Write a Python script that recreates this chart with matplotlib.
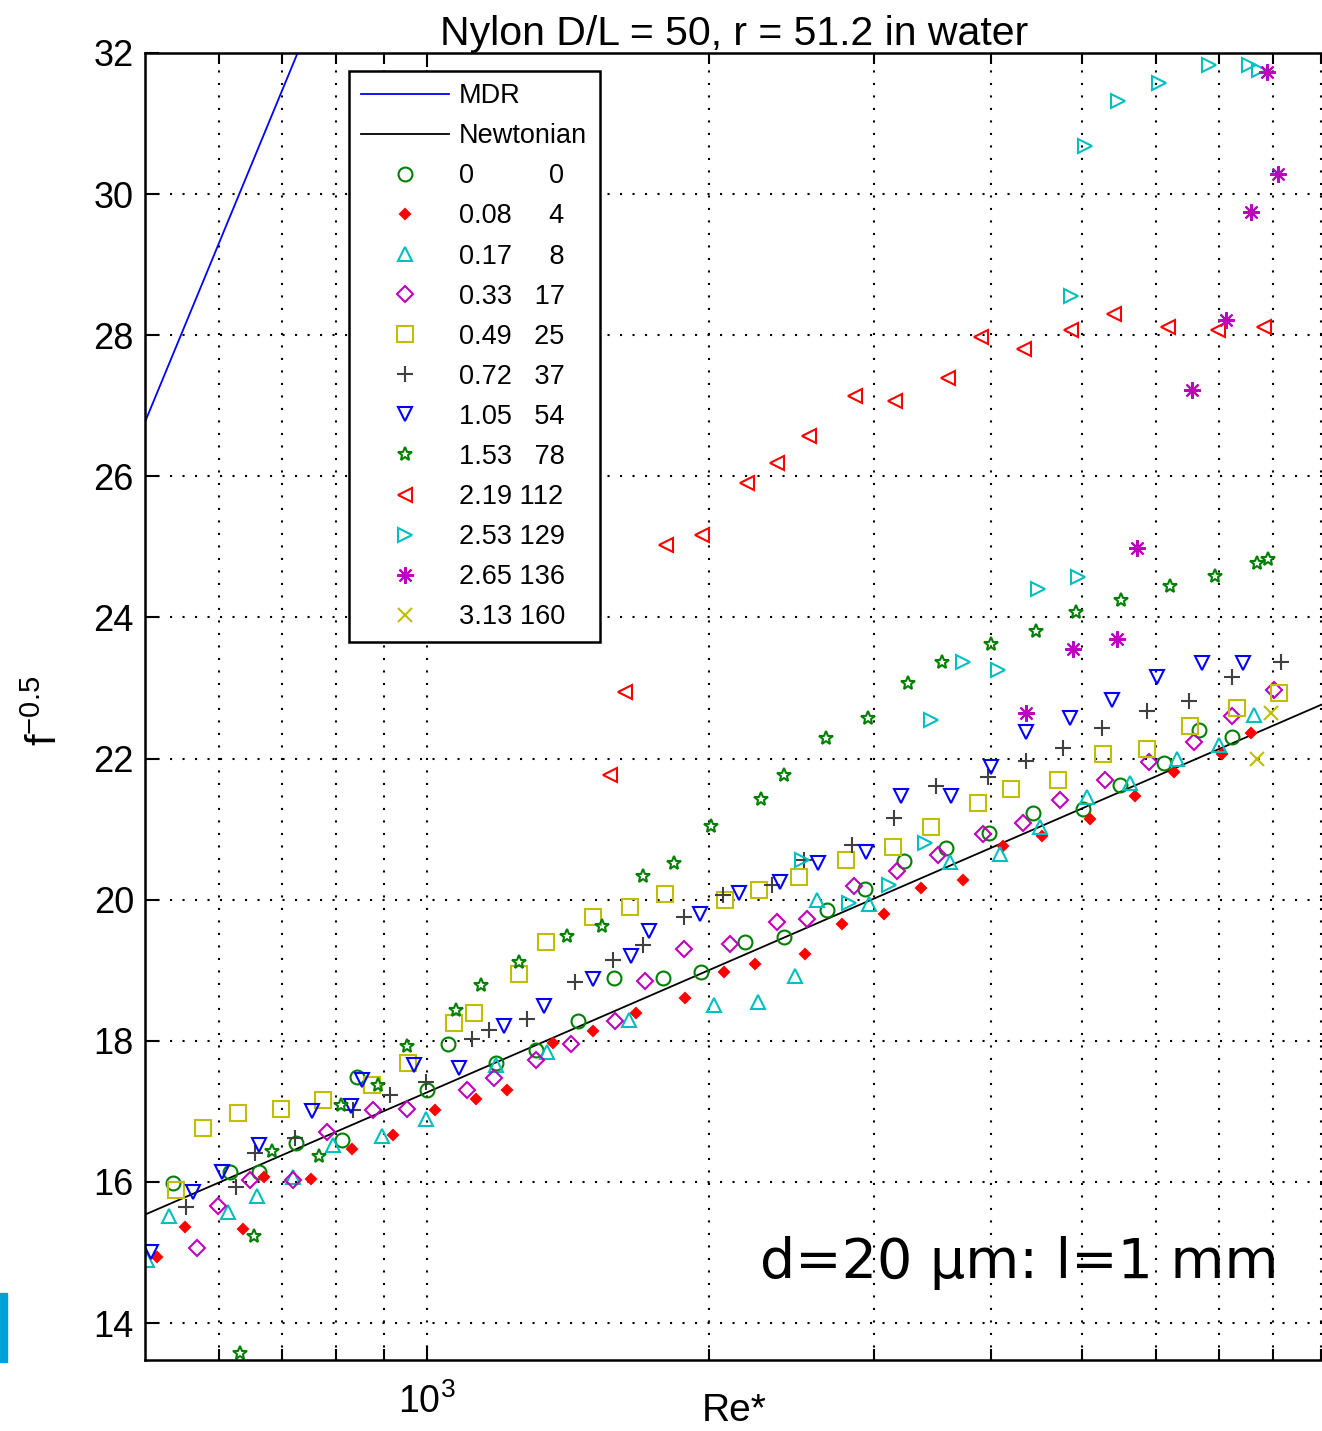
import numpy as np
import matplotlib
matplotlib.use("Agg")
import matplotlib.pyplot as plt
from matplotlib.ticker import FixedLocator, NullFormatter, FixedFormatter
from matplotlib.patches import Rectangle

plt.rcParams['font.family'] = ['Liberation Sans', 'DejaVu Sans']
plt.rcParams['mathtext.fontset'] = 'custom'
plt.rcParams['mathtext.rm'] = 'Liberation Sans'
plt.rcParams['mathtext.it'] = 'Liberation Sans'
plt.rcParams['mathtext.default'] = 'regular'

# legend columns: polymer concentration and ppm
conc = ['0', '0.08', '0.17', '0.33', '0.49', '0.72', '1.05', '1.53', '2.19', '2.53', '2.65', '3.13']
ppm = ['0', '4', '8', '17', '25', '37', '54', '78', '112', '129', '136', '160']

# Re* and f^-0.5 for each run
re_0 = [536, 616, 661, 724, 811, 842, 999, 1053, 1186, 1306, 1449, 1585, 1784, 1960, 2184, 2404,
        2673, 2930, 3225, 3581, 3978, 4436, 5012, 5483, 6112, 6671, 7224]
f_0 = [15.98, 16.14, 16.14, 16.55, 16.59, 17.49, 17.30, 17.96, 17.69, 17.87, 18.28, 18.89, 18.89,
       18.98, 19.40, 19.47, 19.85, 20.15, 20.55, 20.73, 20.94, 21.23, 21.28, 21.62, 21.94, 22.40, 22.30]

re_008 = [515, 552, 636, 670, 751, 832, 919, 1020, 1129, 1216, 1362, 1503, 1672, 1886, 2075, 2239,
          2531, 2769, 3071, 3365, 3736, 4119, 4533, 5095, 5689, 6276, 7050, 7582]
f_008 = [14.94, 15.36, 15.33, 16.07, 16.04, 16.46, 16.66, 17.02, 17.18, 17.30, 17.97, 18.14, 18.39,
         18.60, 18.98, 19.09, 19.23, 19.65, 19.80, 20.17, 20.28, 20.76, 20.90, 21.15, 21.47, 21.81,
         22.07, 22.36]

re_017 = [503, 530, 613, 658, 719, 793, 895, 998, 1186, 1343, 1641, 2025, 2257, 2470, 2605, 2961,
          3617, 4086, 4507, 5065, 5632, 6315, 7005, 7633]
f_017 = [14.89, 15.52, 15.58, 15.80, 16.07, 16.52, 16.65, 16.89, 17.66, 17.84, 18.29, 18.51, 18.55,
         18.92, 20.00, 19.94, 20.54, 20.65, 21.03, 21.45, 21.65, 21.99, 22.19, 22.62]

re_033 = [568, 598, 647, 719, 782, 875, 952, 1102, 1179, 1306, 1425, 1588, 1710, 1882, 2106, 2364,
          2545, 2853, 3172, 3514, 3917, 4328, 4733, 5293, 5902, 6592, 7237, 8015]
f_033 = [15.06, 15.66, 16.03, 16.03, 16.71, 17.02, 17.04, 17.30, 17.47, 17.73, 17.96, 18.28, 18.85,
         19.30, 19.37, 19.69, 19.72, 20.19, 20.40, 20.63, 20.93, 21.09, 21.41, 21.69, 21.95, 22.24,
         22.60, 22.97]

re_049 = [540, 577, 628, 698, 774, 873, 955, 1068, 1122, 1253, 1341, 1503, 1647, 1796, 2080, 2261,
          2494, 2803, 3141, 3449, 3876, 4202, 4713, 5263, 5867, 6512, 7313, 8115]
f_049 = [15.88, 16.77, 16.98, 17.03, 17.16, 17.37, 17.69, 18.25, 18.39, 18.95, 19.40, 19.76, 19.90,
         20.08, 20.00, 20.14, 20.32, 20.56, 20.74, 21.03, 21.37, 21.57, 21.69, 22.07, 22.14, 22.46,
         22.71, 22.93]

re_072 = [553, 626, 656, 723, 834, 914, 998, 1116, 1165, 1277, 1440, 1578, 1699, 1882, 2067, 2336,
          2524, 2841, 3147, 3491, 3965, 4352, 4771, 5254, 5867, 6500, 7224, 8147]
f_072 = [15.65, 15.93, 16.41, 16.62, 17.02, 17.23, 17.42, 18.03, 18.16, 18.31, 18.84, 19.14, 19.36,
         19.76, 20.07, 20.21, 20.56, 20.78, 21.16, 21.61, 21.74, 21.97, 22.15, 22.43, 22.68, 22.82,
         23.16, 23.37]

re_105 = [507, 563, 604, 661, 754, 830, 852, 969, 1082, 1207, 1333, 1503, 1651, 1727, 1957, 2153,
          2381, 2612, 2944, 3207, 3622, 4003, 4352, 4851, 5381, 6012, 6714, 7435]
f_105 = [15.01, 15.86, 16.14, 16.52, 17.00, 17.07, 17.44, 17.66, 17.61, 18.21, 18.49, 18.87, 19.20,
         19.55, 19.80, 20.10, 20.25, 20.52, 20.67, 21.47, 21.47, 21.88, 22.38, 22.57, 22.83, 23.15,
         23.35, 23.35]

re_153 = [632, 654, 683, 767, 809, 886, 952, 1074, 1141, 1254, 1410, 1538, 1699, 1836, 2010, 2271,
          2404, 2663, 2955, 3260, 3548, 4003, 4471, 4931, 5505, 6214, 6934, 7694, 7907]
f_153 = [13.58, 15.24, 16.44, 16.37, 17.09, 17.37, 17.92, 18.44, 18.79, 19.11, 19.48, 19.63, 20.34,
         20.52, 21.04, 21.42, 21.77, 22.29, 22.57, 23.07, 23.37, 23.63, 23.81, 24.08, 24.25, 24.44,
         24.59, 24.77, 24.83]

re_219 = [1566, 1628, 1801, 1964, 2197, 2361, 2555, 2865, 3160, 3593, 3899, 4338, 4870, 5408, 6173,
          6976, 7823]
f_219 = [21.77, 22.95, 25.03, 25.17, 25.91, 26.19, 26.57, 27.14, 27.07, 27.39, 27.98, 27.80, 28.08,
         28.30, 28.12, 28.07, 28.12]

re_253 = [2514, 2818, 3109, 3401, 3451, 3736, 4069, 4488, 4951, 4863, 5033, 5460, 6047, 6836, 7538, 7727]
f_253 = [20.56, 19.96, 20.21, 20.81, 22.54, 23.37, 23.25, 24.40, 24.58, 28.55, 30.68, 31.32, 31.57,
         31.83, 31.83, 31.76]

re_265 = [4352, 4891, 5451, 5725, 6546, 7120, 7568, 8095, 7874]
f_265 = [22.64, 23.55, 23.70, 24.99, 27.23, 28.22, 29.74, 30.29, 31.73]

re_313 = [7963, 7680]
f_313 = [22.64, 22.00]

# MDR asymptote end points, Newtonian law f^-0.5 = 2.5 ln(Re*)
mdr_re = [500, 760]
mdr_f = [26.77, 32.61]
newt_re = np.array([500, 9050])

series = [(re_0, f_0), (re_008, f_008), (re_017, f_017), (re_033, f_033), (re_049, f_049),
          (re_072, f_072), (re_105, f_105), (re_153, f_153), (re_219, f_219), (re_253, f_253),
          (re_265, f_265), (re_313, f_313)]

# old matlab colour order
cg = (0, 0.5, 0)
cr = (1, 0, 0)
cc = (0, 0.75, 0.75)
cm = (0.75, 0, 0.75)
cy = (0.75, 0.75, 0)
ck = (0.25, 0.25, 0.25)
cb = (0, 0, 1)
styles = [('o', cg, 10, 'none'), ('D', cr, 5.5, cr), ('^', cc, 10, 'none'), ('D', cm, 8, 'none'),
          ('s', cy, 11.5, 'none'), ('+', ck, 12, 'none'), ('v', cb, 10.5, 'none'),
          ('*', cg, 10, 'none'), ('<', cr, 10.5, 'none'), ('>', cc, 10, 'none'),
          ((8, 2, 0), cm, 12, 'none'), ('x', cy, 10, 'none')]


def units(s):
    return sum(2 if ch.isdigit() else 1 for ch in s)


labels = [a + ' ' * (14 - units(a) - units(b)) + b for a, b in zip(conc, ppm)]

fig = plt.figure(figsize=(13.22, 14.31), dpi=100)
ax = fig.add_axes([0.10968, 0.04962, 0.8914, 0.91335])

ax.plot(mdr_re, mdr_f, color=cb, lw=1.3, label='MDR')
ax.plot(newt_re, 2.5 * np.log(newt_re), color='k', lw=1.3, label='Newtonian')
for (x, y), (mk, col, ms, fc), lab in zip(series, styles, labels):
    ax.plot(x, y, ls='none', marker=mk, color=col, ms=ms, mfc=fc, mec=col, mew=1.5, label=lab)

ax.set_xscale('log')
ax.set_xlim(500, 9050)
ax.set_ylim(13.476, 32)
ax.xaxis.set_major_locator(FixedLocator([1000]))
ax.xaxis.set_major_formatter(FixedFormatter([r'$10^3$']))
ax.xaxis.set_minor_locator(FixedLocator([600, 700, 800, 900, 2000, 3000, 4000, 5000, 6000, 7000, 8000, 9000]))
ax.xaxis.set_minor_formatter(NullFormatter())
ax.set_yticks(np.arange(14, 33, 2))

gl = dict(color='k', lw=1.5, ls=(0, (1, 5)))
ax.grid(True, which='both', axis='x', **gl)
ax.grid(True, which='major', axis='y', **gl)

ax.tick_params(which='both', direction='in', top=True, right=False, width=1.5)
ax.tick_params(axis='y', labelsize=26, pad=8)
ax.tick_params(axis='x', labelsize=27, pad=17)
ax.tick_params(which='major', length=10)
ax.tick_params(which='minor', length=8)
for s in ['top', 'bottom', 'left']:
    ax.spines[s].set_linewidth(1.8)
ax.spines['right'].set_visible(False)

ax.set_title('Nylon D/L = 50, r = 51.2 in water', fontsize=29.5, pad=4)
ax.set_xlabel('Re*', fontsize=28, va='center')
ax.xaxis.set_label_coords(0.5, -0.039)
ax.set_ylabel('f$^{-0.5}$', fontsize=30, va='center')
ax.yaxis.set_label_coords(-0.084, 0.497)

leg = ax.legend(loc='upper left', bbox_to_anchor=(0.1731, 0.9862), borderaxespad=0, fontsize=19.5,
                fancybox=False, framealpha=1, edgecolor='k', handlelength=3.25, handletextpad=0.37,
                labelspacing=0.52, borderpad=0.45, numpoints=1)
leg.get_frame().set_linewidth(1.8)

fig.text(0.575, 0.107, 'd=20 \u03bcm: l=1 mm', fontsize=40, family='DejaVu Sans', ha='left', va='baseline')
fig.patches.append(Rectangle((0, (1431 - 1362) / 1431), 7 / 1322, 69 / 1431, transform=fig.transFigure,
                             color=(0, 0.63, 0.86), zorder=5))

fig.savefig('out.png', dpi=100)
